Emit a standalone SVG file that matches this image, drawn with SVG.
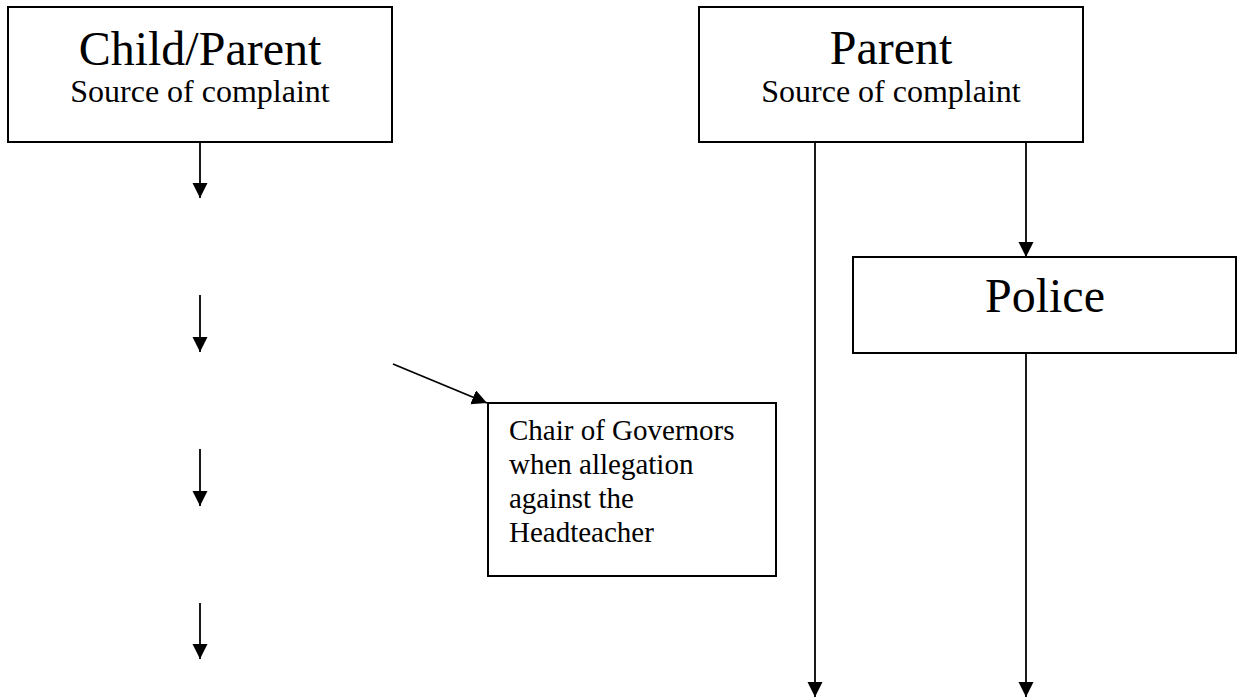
<svg xmlns="http://www.w3.org/2000/svg" width="1237" height="699" viewBox="0 0 1237 699">
<style>
.box{fill:#fff;stroke:#000;stroke-width:2}
.t{font-family:"Liberation Serif","Times New Roman",serif;fill:#000}
.big{font-size:48px;text-anchor:middle}
.sub{font-size:32px;text-anchor:middle}
.small{font-size:29px}
.c{stroke:#000;stroke-width:1.8;fill:none;marker-end:url(#ah)}
</style>
<defs>
<marker id="ah" markerUnits="userSpaceOnUse" markerWidth="16" markerHeight="16" viewBox="0 0 16 16" refX="15" refY="7.5" orient="auto">
<path d="M0,0 L15,7.5 L0,15 z" fill="#000"/>
</marker>
</defs>
<rect width="1237" height="699" fill="#fff"/>
<g id="connectors">
<line class="c" x1="200" y1="142" x2="200" y2="198"/>
<line class="c" x1="200" y1="295" x2="200" y2="352"/>
<line class="c" x1="200" y1="449" x2="200" y2="506"/>
<line class="c" x1="200" y1="603" x2="200" y2="659"/>
<line class="c" x1="393" y1="364" x2="487" y2="403"/>
<line class="c" x1="815" y1="142" x2="815" y2="697"/>
<line class="c" x1="1026" y1="142" x2="1026" y2="257"/>
<line class="c" x1="1026" y1="353" x2="1026" y2="697"/>
</g>
<g id="child-parent">
<rect class="box" x="8" y="7" width="384" height="135"/>
<text class="t big" x="200" y="65">Child/Parent</text>
<text class="t sub" x="200" y="102">Source of complaint</text>
</g>
<g id="parent">
<rect class="box" x="699" y="7" width="384" height="135"/>
<text class="t big" x="891" y="64">Parent</text>
<text class="t sub" x="891" y="102">Source of complaint</text>
</g>
<g id="police">
<rect class="box" x="853" y="257" width="383" height="96"/>
<text class="t big" x="1045" y="312">Police</text>
</g>
<g id="chair">
<rect class="box" x="488" y="403" width="288" height="173"/>
<text class="t small" x="509" y="440">Chair of Governors</text>
<text class="t small" x="509" y="474">when allegation</text>
<text class="t small" x="509" y="508">against the</text>
<text class="t small" x="509" y="542">Headteacher</text>
</g>
</svg>
